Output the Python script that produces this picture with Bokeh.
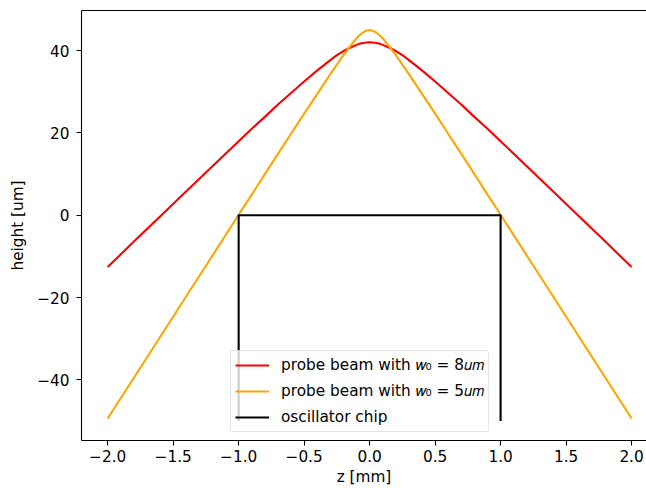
from bokeh.plotting import figure
from bokeh.models import FixedTicker, LinearAxis, Legend, LegendItem
from bokeh.embed import file_html
from bokeh.resources import INLINE

# z positions [mm]
z = [-2.0, -1.8, -1.6, -1.4, -1.2, -1.0, -0.9, -0.8, -0.7, -0.6, -0.5, -0.4, -0.3, -0.25,
     -0.2, -0.15, -0.1, -0.075, -0.05, -0.025, 0.0, 0.025, 0.05, 0.075, 0.1, 0.15, 0.2,
     0.25, 0.3, 0.4, 0.5, 0.6, 0.7, 0.8, 0.9, 1.0, 1.2, 1.4, 1.6, 1.8, 2.0]
# probe beam with w0 = 8um  (height [um])
red_h = [-12.6, -6.4, -0.3, 5.8, 11.9, 18.0, 21.0, 23.9, 26.9, 29.7, 32.5, 35.2, 37.7, 38.9,
         39.9, 40.7, 41.4, 41.7, 41.85, 41.96, 42.0, 41.96, 41.85, 41.7, 41.4, 40.7, 39.9,
         38.9, 37.7, 35.2, 32.5, 29.7, 26.9, 23.9, 21.0, 18.0, 11.9, 5.8, -0.3, -6.4, -12.6]
# probe beam with w0 = 5um  (height [um])
orange_h = [-49.4, -39.5, -29.6, -19.7, -9.8, 0.1, 5.0, 10.0, 14.9, 19.8, 24.7, 29.5, 34.3, 36.6,
            38.9, 41.0, 43.0, 43.8, 44.4, 44.85, 45.0, 44.85, 44.4, 43.8, 43.0, 41.0, 38.9,
            36.6, 34.3, 29.5, 24.7, 19.8, 14.9, 10.0, 5.0, 0.1, -9.8, -19.7, -29.6, -39.5, -49.4]
# oscillator chip outline
chip_z = [-1.0, -1.0, 1.0, 1.0]
chip_h = [-50.0, 0.0, 0.0, -50.0]

x_ticks = [-2.0, -1.5, -1.0, -0.5, 0.0, 0.5, 1.0, 1.5, 2.0]
x_labels = ["−2.0", "−1.5", "−1.0", "−0.5", "0.0", "0.5", "1.0", "1.5", "2.0"]
y_ticks = [-40, -20, 0, 20, 40]
y_labels = ["−40", "−20", "0", "20", "40"]
legend_labels = ["probe beam with 𝑤₀ = 8𝑢𝑚",
                 "probe beam with 𝑤₀ = 5𝑢𝑚",
                 "oscillator chip"]

FONT = "DejaVu Sans"
FS = "15.3px"

p = figure(width=646, height=488, x_range=(-2.2, 2.114), y_range=(-54.75, 49.75),
           output_backend="svg", toolbar_location=None,
           min_border_left=81, min_border_right=0, min_border_top=10, min_border_bottom=48)
p.outline_line_color = None
p.xgrid.visible = False
p.ygrid.visible = False
p.background_fill_color = "white"
p.border_fill_color = "white"

r1 = p.line(z, red_h, line_color="red", line_width=2.1)
r2 = p.line(z, orange_h, line_color="orange", line_width=2.1)
r3 = p.line(chip_z, chip_h, line_color="black", line_width=2.1)

for ax, ticks, labels in ((p.xaxis[0], x_ticks, x_labels), (p.yaxis[0], y_ticks, y_labels)):
    ax.ticker = FixedTicker(ticks=ticks)
    ax.major_label_overrides = {t: l for t, l in zip(ticks, labels)}
    ax.minor_tick_line_color = None
    ax.major_tick_out = 5
    ax.major_tick_in = 0
    ax.major_tick_line_width = 1.1
    ax.axis_line_width = 1.1
    ax.axis_line_color = "black"
    ax.major_tick_line_color = "black"
    ax.major_label_text_font = FONT
    ax.major_label_text_font_size = FS
    ax.major_label_text_color = "black"
    ax.axis_label_text_font = FONT
    ax.axis_label_text_font_size = FS
    ax.axis_label_text_font_style = "normal"
    ax.axis_label_text_color = "black"

p.xaxis[0].axis_label = "z [mm]"
p.yaxis[0].axis_label = "height [um]"
p.xaxis[0].major_label_standoff = 4
p.xaxis[0].axis_label_standoff = 3
p.yaxis[0].major_label_standoff = 7
p.yaxis[0].axis_label_standoff = 7

top = LinearAxis(ticker=FixedTicker(ticks=[]), major_label_text_font_size="0px",
                 axis_line_width=1.1, axis_line_color="black",
                 major_tick_line_color=None, minor_tick_line_color=None)
p.add_layout(top, "above")

legend = Legend(items=[
    LegendItem(label=legend_labels[0], renderers=[r1]),
    LegendItem(label=legend_labels[1], renderers=[r2]),
    LegendItem(label=legend_labels[2], renderers=[r3]),
], location=(149, 8))
legend.label_text_font = FONT
legend.label_text_font_size = FS
legend.label_text_color = "black"
legend.glyph_width = 34
legend.glyph_height = 20
legend.label_height = 20
legend.label_standoff = 12
legend.spacing = 6
legend.padding = 4
legend.margin = 0
legend.background_fill_color = "white"
legend.background_fill_alpha = 0.8
legend.border_line_color = "#cccccc"
legend.border_line_width = 1
try:
    legend.border_radius = 3
except Exception:
    pass
p.add_layout(legend, "center")

open("out.html", "w").write(file_html(p, INLINE))
